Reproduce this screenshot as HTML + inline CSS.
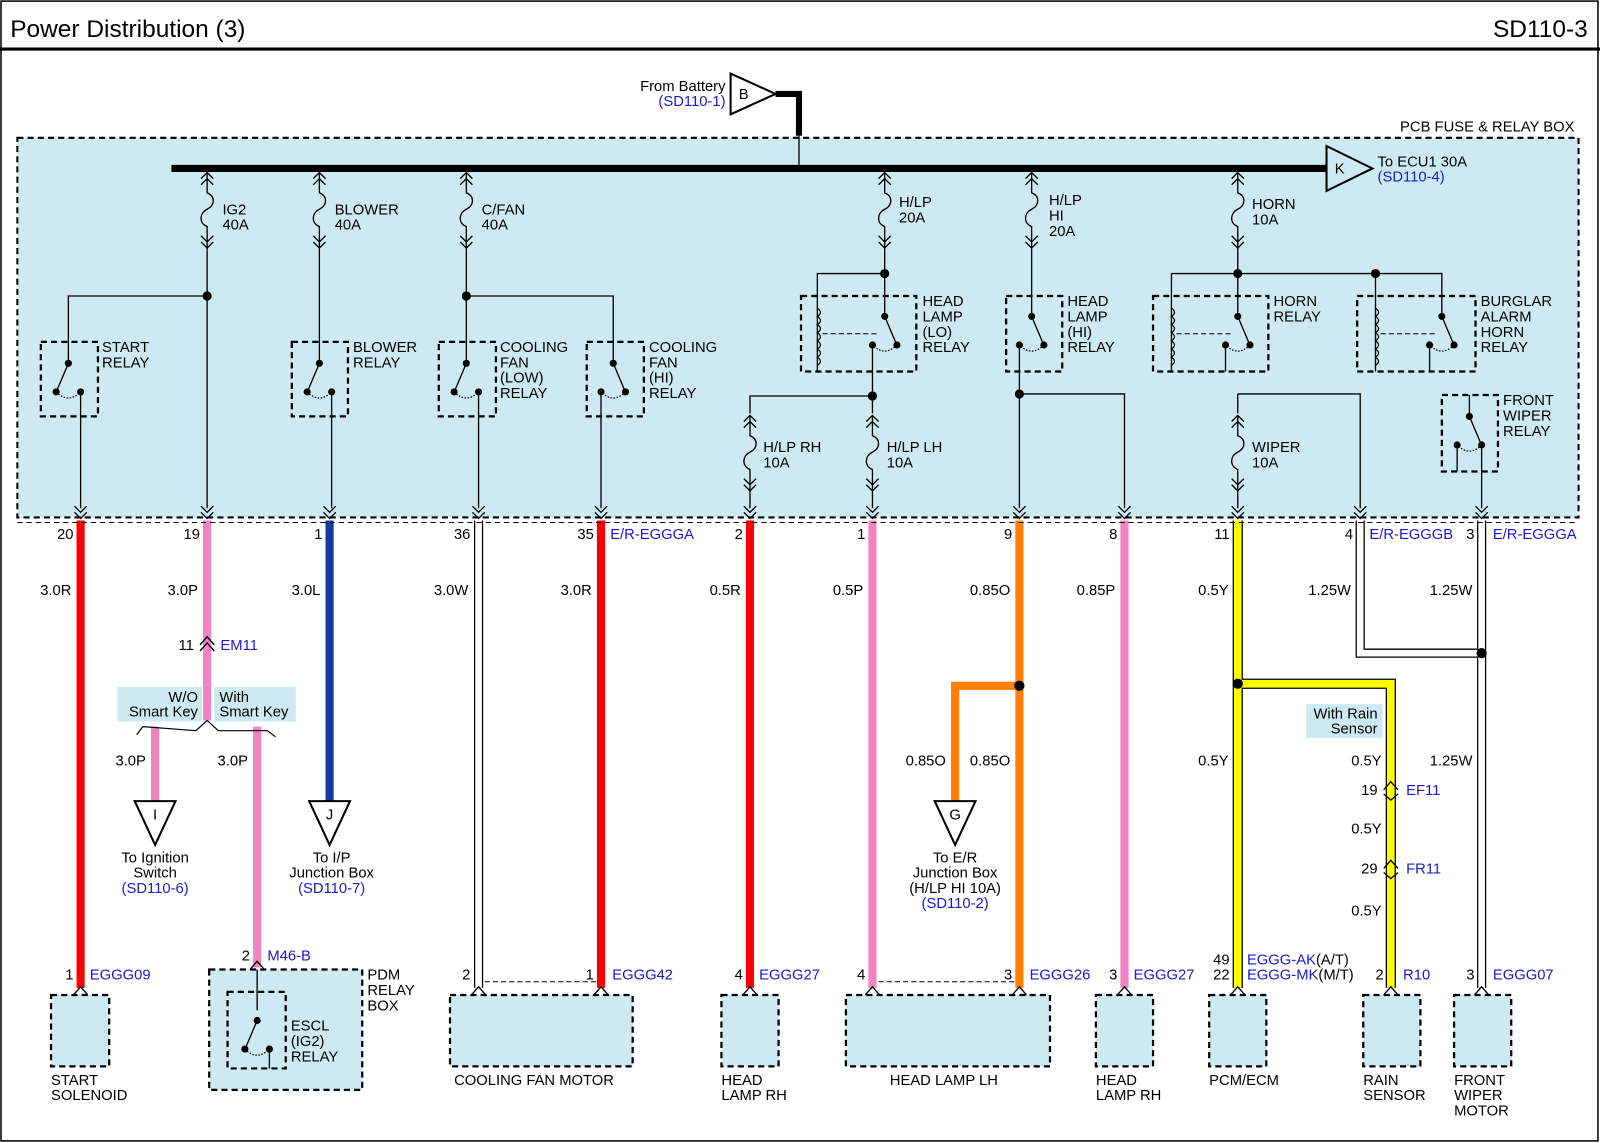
<!DOCTYPE html>
<html><head><meta charset="utf-8"><style>
html,body{margin:0;padding:0;background:#fff;}
svg{display:block;}
text{font-family:"Liberation Sans",Arial,sans-serif;font-size:14.5px;fill:#000;}
.b{fill:#1a1acc;}
.e{text-anchor:end;}
.m{text-anchor:middle;}
</style></head><body>
<svg width="1600" height="1143" viewBox="0 0 1568 1120" xmlns="http://www.w3.org/2000/svg">
<defs>
<g id="fz" fill="none" stroke="#000" stroke-width="1.3">
<path d="M-6,8 L0,2 L6,8 M-6,14 L0,8 L6,14"/>
<path d="M0,2 V22 C8,25 8,34 0,38 C-8,42 -8,52 0,55 V78"/>
<path d="M-6,64 L0,70 L6,64 M-6,70 L0,76 L6,70"/>
</g>
<g id="cv" fill="none" stroke="#000" stroke-width="1.3"><path d="M-6,0 L0,6 L6,0 M-6,6 L0,12 L6,6"/></g>
<g id="cu" fill="none" stroke="#000" stroke-width="1.3"><path d="M-7,8 L0,0 L7,8"/></g>
<g id="sw">
<circle cx="0" cy="0" r="3.5"/><path d="M0,0 L-11,26" stroke="#000" stroke-width="1.3"/>
<circle cx="-12" cy="28" r="3.5"/><circle cx="12" cy="28" r="3.5"/>
<path d="M-12,28 Q0,40 12,28" fill="none" stroke="#000" stroke-width="1.2" stroke-dasharray="1.5,1.5"/>
</g>
<g id="coil" fill="none" stroke="#000" stroke-width="1.2"><path d="M0,0 q6,4 0,8 q6,4 0,8 q6,4 0,8 q6,4 0,8 q6,4 0,8 q6,4 0,8 q6,4 0,8"/></g>
</defs>
<rect x="1" y="1" width="1565" height="1117" fill="#fff" stroke="#000" stroke-width="1.5"/>
<text x="10" y="36" style="font-size:24px">Power Distribution (3)</text>
<text x="1556" y="36" class="e" style="font-size:24px">SD110-3</text>
<line x1="0" y1="48" x2="1568" y2="48" stroke="#000" stroke-width="3"/>

<rect x="17" y="135" width="1530" height="372" fill="#cdeaf2" stroke="#000" stroke-width="2" stroke-dasharray="6,4"/>
<text x="1543" y="129" class="e">PCB FUSE &amp; RELAY BOX</text>

<polygon points="716,72 760,92 716,112" fill="#fff" stroke="#000" stroke-width="2"/>
<text x="724" y="97">B</text>
<path d="M760,92 H783 V133" fill="none" stroke="#000" stroke-width="6"/>
<line x1="783" y1="133" x2="783" y2="165" stroke="#000" stroke-width="1.3"/>
<text x="711" y="89" class="e">From Battery</text>
<text x="711" y="104" class="e b">(SD110-1)</text>

<line x1="168" y1="165" x2="1302" y2="165" stroke="#000" stroke-width="7"/>
<polygon points="1300,143 1345,165 1300,187" fill="#cdeaf2" stroke="#000" stroke-width="2"/>
<text x="1308" y="170">K</text>
<text x="1350" y="163">To ECU1 30A</text>
<text x="1350" y="178" class="b">(SD110-4)</text>

<use href="#fz" x="203" y="167"/><use href="#fz" x="313" y="167"/><use href="#fz" x="457" y="167"/>
<use href="#fz" x="867" y="167"/><use href="#fz" x="1011" y="167"/><use href="#fz" x="1213" y="167"/>
<text x="218" y="210">IG2</text><text x="218" y="225">40A</text>
<text x="328" y="210">BLOWER</text><text x="328" y="225">40A</text>
<text x="472" y="210">C/FAN</text><text x="472" y="225">40A</text>
<text x="881" y="203">H/LP</text><text x="881" y="218">20A</text>
<text x="1028" y="201">H/LP</text><text x="1028" y="216">HI</text><text x="1028" y="231">20A</text>
<text x="1227" y="205">HORN</text><text x="1227" y="220">10A</text>

<g fill="none" stroke="#000" stroke-width="1.3">
<path d="M203,245 V498"/><path d="M203,290 H67 V356"/><path d="M79,384 V498"/>
<path d="M313,245 V356"/><path d="M325,384 V498"/>
<path d="M457,245 V356"/><path d="M457,290 H601 V356"/><path d="M469,384 V498"/><path d="M589,384 V498"/>
<path d="M867,245 V310"/><path d="M867,268 H801 V364"/><path d="M855,340 V405"/>
<path d="M855,388 H735 V405"/>
<path d="M1011,245 V310"/><path d="M999,340 V498"/><path d="M999,386 H1102 V498"/>
<path d="M1213,245 V310"/><path d="M1148,268 H1413 V310"/><path d="M1148,268 V364"/><path d="M1201,340 V364"/>
<path d="M1348,268 V364"/><path d="M1401,340 V364"/>
<path d="M1213,386 V405"/><path d="M1213,386 H1333 V498"/>
<path d="M1440,387 V408"/><path d="M1428,436 V462"/><path d="M1452,436 V498"/>
<path d="M735,483 V498"/><path d="M855,483 V498"/><path d="M1213,483 V498"/>
<g stroke-width="2.2" stroke-dasharray="6,4">
<rect x="40" y="335" width="56" height="73"/>
<rect x="286" y="335" width="55" height="73"/>
<rect x="430" y="335" width="56" height="73"/>
<rect x="575" y="335" width="56" height="73"/>
<rect x="785" y="290" width="113" height="74"/>
<rect x="986" y="290" width="55" height="74"/>
<rect x="1130" y="290" width="113" height="74"/>
<rect x="1330" y="290" width="116" height="74"/>
<rect x="1413" y="387" width="55" height="75"/>
</g>
<g stroke-dasharray="5,3" stroke-width="1"><path d="M806,327 H862 M1153,327 H1208 M1353,327 H1408"/></g>
</g>
<use href="#coil" x="801" y="302"/><use href="#coil" x="1148" y="302"/><use href="#coil" x="1348" y="302"/>
<use href="#sw" x="67" y="356"/><use href="#sw" x="313" y="356"/><use href="#sw" x="457" y="356"/>
<use href="#sw" transform="translate(601,356) scale(-1,1)"/>
<use href="#sw" transform="translate(867,310) scale(-1,1)"/>
<use href="#sw" transform="translate(1011,310) scale(-1,1)"/>
<use href="#sw" transform="translate(1213,310) scale(-1,1)"/>
<use href="#sw" transform="translate(1413,310) scale(-1,1)"/>
<use href="#sw" transform="translate(1440,408) scale(-1,1)"/>
<g>
<circle cx="203" cy="290" r="4.5"/><circle cx="457" cy="290" r="4.5"/><circle cx="867" cy="268" r="4.5"/>
<circle cx="855" cy="388" r="4.5"/><circle cx="999" cy="386" r="4.5"/><circle cx="1213" cy="268" r="4.5"/><circle cx="1348" cy="268" r="4.5"/>
</g>
<use href="#fz" x="735" y="405"/><use href="#fz" x="855" y="405"/><use href="#fz" x="1213" y="405"/>
<text x="748" y="443">H/LP RH</text><text x="748" y="458">10A</text>
<text x="869" y="443">H/LP LH</text><text x="869" y="458">10A</text>
<text x="1227" y="443">WIPER</text><text x="1227" y="458">10A</text>

<text x="100" y="345">START</text><text x="100" y="360">RELAY</text>
<text x="346" y="345">BLOWER</text><text x="346" y="360">RELAY</text>
<text x="490" y="345">COOLING</text><text x="490" y="360">FAN</text><text x="490" y="375">(LOW)</text><text x="490" y="390">RELAY</text>
<text x="636" y="345">COOLING</text><text x="636" y="360">FAN</text><text x="636" y="375">(HI)</text><text x="636" y="390">RELAY</text>
<text x="904" y="300">HEAD</text><text x="904" y="315">LAMP</text><text x="904" y="330">(LO)</text><text x="904" y="345">RELAY</text>
<text x="1046" y="300">HEAD</text><text x="1046" y="315">LAMP</text><text x="1046" y="330">(HI)</text><text x="1046" y="345">RELAY</text>
<text x="1248" y="300">HORN</text><text x="1248" y="315">RELAY</text>
<text x="1451" y="300">BURGLAR</text><text x="1451" y="315">ALARM</text><text x="1451" y="330">HORN</text><text x="1451" y="345">RELAY</text>
<text x="1473" y="397">FRONT</text><text x="1473" y="412">WIPER</text><text x="1473" y="427">RELAY</text>

<g fill="none" stroke-linejoin="miter">
<path d="M79,510 V968" stroke="#ff0000" stroke-width="8"/>
<path d="M203,510 V706" stroke="#f083c2" stroke-width="8"/>
<path d="M152,712 V785" stroke="#f083c2" stroke-width="8"/>
<path d="M252,712 V948" stroke="#f083c2" stroke-width="8"/>
<path d="M323,510 V785" stroke="#133f9a" stroke-width="8"/>
<path d="M469,510 V968" stroke="#000" stroke-width="9"/><path d="M469,510 V968" stroke="#fff" stroke-width="6.5"/>
<path d="M589,510 V968" stroke="#ff0000" stroke-width="8"/>
<path d="M735,510 V968" stroke="#ff0000" stroke-width="8"/>
<path d="M855,510 V968" stroke="#f083c2" stroke-width="8"/>
<path d="M999,510 V968" stroke="#ff8000" stroke-width="8"/>
<path d="M999,672 H936 V785" stroke="#ff8000" stroke-width="8"/>
<path d="M1102,510 V968" stroke="#f083c2" stroke-width="8"/>
<path d="M1213,510 V968 M1213,670 H1363 V968" stroke="#000" stroke-width="10"/>
<path d="M1213,510 V968 M1213,670 H1363 V968" stroke="#ffff00" stroke-width="7.5"/>
<path d="M1333,510 V640 H1452 M1452,510 V968" stroke="#000" stroke-width="9"/>
<path d="M1333,510 V640 H1452 M1452,510 V968" stroke="#fff" stroke-width="6.5"/>
</g>
<path d="M203,706 L214,716 M203,706 L192,716 M140,712 L192,716 M214,716 H262 L270,722 M140,712 L134,720" fill="none" stroke="#000" stroke-width="1.2"/>
<circle cx="999" cy="672" r="5"/><circle cx="1213" cy="670" r="5"/><circle cx="1452" cy="640" r="5"/>

<use href="#cv" x="79" y="496"/><use href="#cv" x="203" y="496"/><use href="#cv" x="323" y="496"/><use href="#cv" x="469" y="496"/>
<use href="#cv" x="589" y="496"/><use href="#cv" x="735" y="496"/><use href="#cv" x="855" y="496"/><use href="#cv" x="999" y="496"/>
<use href="#cv" x="1102" y="496"/><use href="#cv" x="1213" y="496"/><use href="#cv" x="1333" y="496"/><use href="#cv" x="1452" y="496"/>
<line x1="17" y1="512" x2="1547" y2="512" stroke="#000" stroke-width="1" stroke-dasharray="5,4"/>

<text x="72" y="528" class="e">20</text><text x="196" y="528" class="e">19</text><text x="316" y="528" class="e">1</text>
<text x="461" y="528" class="e">36</text><text x="582" y="528" class="e">35</text><text x="728" y="528" class="e">2</text>
<text x="848" y="528" class="e">1</text><text x="992" y="528" class="e">9</text><text x="1095" y="528" class="e">8</text>
<text x="1205" y="528" class="e">11</text><text x="1326" y="528" class="e">4</text><text x="1445" y="528" class="e">3</text>
<text x="598" y="528" class="b">E/R-EGGGA</text><text x="1342" y="528" class="b">E/R-EGGGB</text><text x="1463" y="528" class="b">E/R-EGGGA</text>

<text x="70" y="583" class="e">3.0R</text><text x="194" y="583" class="e">3.0P</text><text x="314" y="583" class="e">3.0L</text>
<text x="459" y="583" class="e">3.0W</text><text x="580" y="583" class="e">3.0R</text><text x="726" y="583" class="e">0.5R</text>
<text x="846" y="583" class="e">0.5P</text><text x="990" y="583" class="e">0.85O</text><text x="1093" y="583" class="e">0.85P</text>
<text x="1204" y="583" class="e">0.5Y</text><text x="1324" y="583" class="e">1.25W</text><text x="1443" y="583" class="e">1.25W</text>
<text x="143" y="750" class="e">3.0P</text><text x="243" y="750" class="e">3.0P</text>
<text x="927" y="750" class="e">0.85O</text><text x="990" y="750" class="e">0.85O</text>
<text x="1204" y="750" class="e">0.5Y</text><text x="1354" y="750" class="e">0.5Y</text><text x="1443" y="750" class="e">1.25W</text>
<text x="1354" y="817" class="e">0.5Y</text><text x="1354" y="897" class="e">0.5Y</text>

<use href="#cu" x="203" y="624"/><use href="#cu" x="203" y="630"/>
<text x="190" y="637" class="e">11</text><text x="216" y="637" class="b">EM11</text>
<use href="#cu" x="1363" y="766"/>
<path d="M1356,778 L1363,784 L1370,778" fill="none" stroke="#000" stroke-width="1.3"/>
<text x="1350" y="779" class="e">19</text><text x="1378" y="779" class="b">EF11</text>
<use href="#cu" x="1363" y="843"/>
<path d="M1356,855 L1363,861 L1370,855" fill="none" stroke="#000" stroke-width="1.3"/>
<text x="1350" y="856" class="e">29</text><text x="1378" y="856" class="b">FR11</text>

<rect x="115" y="673" width="83" height="34" fill="#cdeaf2"/>
<rect x="210" y="673" width="80" height="34" fill="#cdeaf2"/>
<text x="194" y="688" class="e">W/O</text><text x="194" y="702" class="e">Smart Key</text>
<text x="215" y="688">With</text><text x="215" y="702">Smart Key</text>
<rect x="1280" y="690" width="75" height="33" fill="#cdeaf2"/>
<text x="1350" y="704" class="e">With Rain</text><text x="1350" y="719" class="e">Sensor</text>

<g fill="#fff" stroke="#000" stroke-width="2">
<polygon points="132,785 172,785 152,828"/><polygon points="303,785 343,785 323,828"/><polygon points="916,785 956,785 936,828"/>
</g>
<text x="152" y="803" class="m">I</text><text x="323" y="803" class="m">J</text><text x="936" y="803" class="m">G</text>
<text x="152" y="845" class="m">To Ignition</text><text x="152" y="860" class="m">Switch</text><text x="152" y="875" class="m b">(SD110-6)</text>
<text x="325" y="845" class="m">To I/P</text><text x="325" y="860" class="m">Junction Box</text><text x="325" y="875" class="m b">(SD110-7)</text>
<text x="936" y="845" class="m">To E/R</text><text x="936" y="860" class="m">Junction Box</text><text x="936" y="875" class="m">(H/LP HI 10A)</text><text x="936" y="890" class="m b">(SD110-2)</text>

<g fill="#cdeaf2" stroke="#000" stroke-width="2.2" stroke-dasharray="6,4">
<rect x="50" y="975" width="57" height="70"/>
<rect x="205" y="950" width="150" height="118"/>
<rect x="441" y="975" width="179" height="70"/>
<rect x="707" y="975" width="56" height="70"/>
<rect x="829" y="975" width="200" height="70"/>
<rect x="1074" y="975" width="56" height="70"/>
<rect x="1185" y="975" width="56" height="70"/>
<rect x="1336" y="975" width="56" height="70"/>
<rect x="1425" y="975" width="56" height="70"/>
<rect x="223" y="972" width="57" height="75" fill="none"/>
</g>
<path d="M475,962 H585 M861,962 H995" stroke="#000" stroke-width="1" stroke-dasharray="5,3"/>
<use href="#cu" x="79" y="967"/><use href="#cu" x="469" y="967"/><use href="#cu" x="589" y="967"/><use href="#cu" x="735" y="967"/>
<use href="#cu" x="855" y="967"/><use href="#cu" x="999" y="967"/><use href="#cu" x="1102" y="967"/><use href="#cu" x="1213" y="967"/>
<use href="#cu" x="1363" y="967"/><use href="#cu" x="1452" y="967"/><use href="#cu" x="252" y="942"/>
<path d="M252,950 V990 M264,1028 V1047" stroke="#000" stroke-width="1.3"/>
<use href="#sw" x="252" y="1000"/>
<text x="72" y="960" class="e">1</text><text x="88" y="960" class="b">EGGG09</text>
<text x="245" y="941" class="e">2</text><text x="262" y="941" class="b">M46-B</text>
<text x="461" y="960" class="e">2</text><text x="582" y="960" class="e">1</text><text x="600" y="960" class="b">EGGG42</text>
<text x="728" y="960" class="e">4</text><text x="744" y="960" class="b">EGGG27</text>
<text x="848" y="960" class="e">4</text><text x="992" y="960" class="e">3</text><text x="1009" y="960" class="b">EGGG26</text>
<text x="1095" y="960" class="e">3</text><text x="1111" y="960" class="b">EGGG27</text>
<text x="1205" y="945" class="e">49</text><text x="1205" y="960" class="e">22</text>
<text x="1222" y="945"><tspan class="b">EGGG-AK</tspan>(A/T)</text><text x="1222" y="960"><tspan class="b">EGGG-MK</tspan>(M/T)</text>
<text x="1356" y="960" class="e">2</text><text x="1375" y="960" class="b">R10</text>
<text x="1445" y="960" class="e">3</text><text x="1463" y="960" class="b">EGGG07</text>
<text x="360" y="960">PDM</text><text x="360" y="975">RELAY</text><text x="360" y="990">BOX</text>
<text x="285" y="1010">ESCL</text><text x="285" y="1025">(IG2)</text><text x="285" y="1040">RELAY</text>
<text x="50" y="1063">START</text><text x="50" y="1078">SOLENOID</text>
<text x="445" y="1063">COOLING FAN MOTOR</text>
<text x="707" y="1063">HEAD</text><text x="707" y="1078">LAMP RH</text>
<text x="872" y="1063">HEAD LAMP LH</text>
<text x="1074" y="1063">HEAD</text><text x="1074" y="1078">LAMP RH</text>
<text x="1185" y="1063">PCM/ECM</text>
<text x="1336" y="1063">RAIN</text><text x="1336" y="1078">SENSOR</text>
<text x="1425" y="1063">FRONT</text><text x="1425" y="1078">WIPER</text><text x="1425" y="1093">MOTOR</text>
</svg>
</body></html>
